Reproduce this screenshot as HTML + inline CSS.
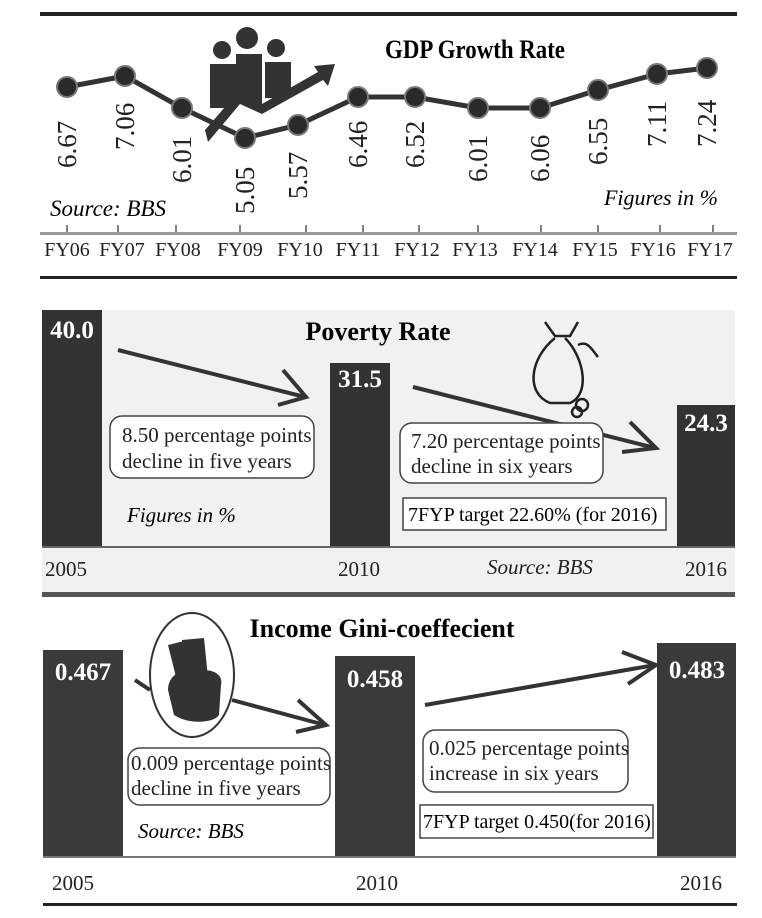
<!DOCTYPE html>
<html><head><meta charset="utf-8"><style>
html,body{margin:0;padding:0;background:#fff}
svg{display:block}
text{font-family:"Liberation Serif",serif}
</style></head><body>
<svg width="762" height="918" viewBox="0 0 762 918" xmlns="http://www.w3.org/2000/svg">
<!-- GDP panel -->
<rect x="40" y="12" width="697" height="4" fill="#222"/>
<text x="475" y="58" font-size="26" font-weight="bold" text-anchor="middle" transform="translate(475 0) scale(0.88 1) translate(-475 0)">GDP Growth Rate</text>
<g fill="#333">
<circle cx="222" cy="50" r="9"/><circle cx="247" cy="38" r="11"/><circle cx="276" cy="48" r="9"/>
<path d="M210 64 h26 v44 h-26z"/><path d="M236 54 h26 v50 h-26z"/><path d="M265 62 h26 v36 h-26z"/>
<path d="M205 130 L238 92 L262 104 L318 72 L314 66 L335 64 L328 86 L323 80 L262 114 L240 104 L208 142z"/>
</g>
<polyline fill="none" stroke="#333" stroke-width="5" points="67,87 125,76 182,108 245,138 298,125 358,97 415,97 478,108 540,108 598,90 657,74 707,68"/>
<g fill="#2a2a2a" stroke="#777" stroke-width="2">
<circle cx="67" cy="87" r="10"/><circle cx="125" cy="76" r="10"/><circle cx="182" cy="108" r="10"/><circle cx="245" cy="138" r="10"/><circle cx="298" cy="125" r="10"/><circle cx="358" cy="97" r="10"/><circle cx="415" cy="97" r="10"/><circle cx="478" cy="108" r="10"/><circle cx="540" cy="108" r="10"/><circle cx="598" cy="90" r="10"/><circle cx="657" cy="74" r="10"/><circle cx="707" cy="68" r="10"/>
</g>
<g font-size="27" fill="#222">
<text transform="translate(76 168) rotate(-90)">6.67</text>
<text transform="translate(134 150) rotate(-90)">7.06</text>
<text transform="translate(191 183) rotate(-90)">6.01</text>
<text transform="translate(254 214) rotate(-90)">5.05</text>
<text transform="translate(307 199) rotate(-90)">5.57</text>
<text transform="translate(367 168) rotate(-90)">6.46</text>
<text transform="translate(424 168) rotate(-90)">6.52</text>
<text transform="translate(487 182) rotate(-90)">6.01</text>
<text transform="translate(549 182) rotate(-90)">6.06</text>
<text transform="translate(607 165) rotate(-90)">6.55</text>
<text transform="translate(666 147) rotate(-90)">7.11</text>
<text transform="translate(716 147) rotate(-90)">7.24</text>
</g>
<text x="50" y="216" font-size="23" font-style="italic">Source: BBS</text>
<text x="718" y="205" font-size="22" font-style="italic" text-anchor="end">Figures in %</text>
<rect x="40" y="232" width="697" height="3" fill="#999"/>
<g stroke="#555" stroke-width="1.5">
<line x1="67" y1="225" x2="67" y2="232"/><line x1="118" y1="225" x2="118" y2="232"/><line x1="176" y1="225" x2="176" y2="232"/><line x1="240" y1="225" x2="240" y2="232"/><line x1="306" y1="225" x2="306" y2="232"/><line x1="363" y1="225" x2="363" y2="232"/><line x1="419" y1="225" x2="419" y2="232"/><line x1="478" y1="225" x2="478" y2="232"/><line x1="541" y1="225" x2="541" y2="232"/><line x1="598" y1="225" x2="598" y2="232"/><line x1="660" y1="225" x2="660" y2="232"/><line x1="713" y1="225" x2="713" y2="232"/>
</g>
<g font-size="20" text-anchor="middle" fill="#222">
<text x="67" y="256">FY06</text><text x="122" y="256">FY07</text><text x="178" y="256">FY08</text><text x="240" y="256">FY09</text><text x="300" y="256">FY10</text><text x="358" y="256">FY11</text><text x="417" y="256">FY12</text><text x="475" y="256">FY13</text><text x="535" y="256">FY14</text><text x="595" y="256">FY15</text><text x="653" y="256">FY16</text><text x="710" y="256">FY17</text>
</g>
<rect x="40" y="276" width="697" height="3" fill="#222"/>

<!-- Poverty panel -->
<rect x="42" y="310" width="693" height="283" fill="#f1f1f1"/>
<rect x="42" y="310" width="60" height="237" fill="#333"/>
<rect x="330" y="363" width="60" height="184" fill="#333"/>
<rect x="677" y="405" width="58" height="142" fill="#333"/>
<rect x="42" y="546" width="693" height="2" fill="#666"/>
<rect x="42" y="592" width="693" height="5" fill="#555"/>
<g font-size="25" font-weight="bold" fill="#fff" text-anchor="middle">
<text x="72" y="338">40.0</text><text x="360" y="387">31.5</text><text x="706" y="431">24.3</text>
</g>
<text x="378" y="340" font-size="26" font-weight="bold" text-anchor="middle">Poverty Rate</text>
<g fill="none" stroke="#222" stroke-width="2.5">
<path d="M545 322 l10 14 h15 l8 -14 M555 338 c-25 20 -30 55 -5 65 h20 c20 -8 15 -45 -5 -65"/>
<path d="M578 345 c10 -5 14 5 20 12"/>
<circle cx="582" cy="405" r="6"/><circle cx="577" cy="412" r="5"/>
</g>
<g stroke="#333" stroke-width="4" fill="none">
<line x1="118" y1="350" x2="305" y2="397"/><path d="M283 370 L306 397 L278 405"/>
<line x1="413" y1="387" x2="655" y2="448"/><path d="M630 422 L656 448 L622 452"/>
</g>
<rect x="110" y="416" width="204" height="62" rx="12" fill="#fff" stroke="#444" stroke-width="1.5"/>
<rect x="400" y="423" width="203" height="60" rx="12" fill="#fff" stroke="#444" stroke-width="1.5"/>
<g font-size="21" fill="#222">
<text x="122" y="442">8.50 percentage points</text><text x="122" y="468">decline in five years</text>
<text x="411" y="448">7.20 percentage points</text><text x="411" y="473">decline in six years</text>
</g>
<text x="127" y="522" font-size="21" font-style="italic">Figures in %</text>
<rect x="403" y="498" width="263" height="32" fill="#fff" stroke="#444" stroke-width="1.5"/>
<text x="408" y="521" font-size="20">7FYP target 22.60% (for 2016)</text>
<g font-size="21" fill="#222">
<text x="45" y="576">2005</text><text x="338" y="576">2010</text><text x="685" y="576">2016</text>
<text x="487" y="574" font-style="italic">Source: BBS</text>
</g>

<!-- Gini panel -->
<rect x="43" y="650" width="80" height="208" fill="#3a3a3a"/>
<rect x="335" y="656" width="80" height="202" fill="#3a3a3a"/>
<rect x="657" y="643" width="79" height="215" fill="#3a3a3a"/>
<rect x="43" y="856" width="693" height="2" fill="#777"/>
<g font-size="25" font-weight="bold" fill="#fff" text-anchor="middle">
<text x="83" y="680">0.467</text><text x="375" y="687">0.458</text><text x="697" y="678">0.483</text>
</g>
<text x="382" y="637" font-size="26" font-weight="bold" text-anchor="middle">Income Gini-coeffecient</text>
<ellipse cx="192" cy="675" rx="42" ry="62" fill="#fff" stroke="#333" stroke-width="2"/>
<g fill="#333">
<path d="M168 645 l20 -5 l10 40 l-20 5z"/><path d="M182 640 l22 -2 l4 40 l-20 2z"/>
<path d="M168 690 c0 -15 15 -25 35 -20 c15 0 20 8 18 15 l-2 30 c-5 8 -30 10 -45 0z"/>
</g>
<g stroke="#333" stroke-width="4" fill="none">
<line x1="135" y1="680" x2="150" y2="690"/>
<line x1="232" y1="700" x2="325" y2="725"/><path d="M298 700 L326 725 L296 732"/>
<line x1="425" y1="705" x2="655" y2="665"/><path d="M622 652 L656 665 L628 684"/>
</g>
<rect x="128" y="748" width="202" height="57" rx="12" fill="#fff" stroke="#444" stroke-width="1.5"/>
<rect x="423" y="730" width="205" height="62" rx="12" fill="#fff" stroke="#444" stroke-width="1.5"/>
<g font-size="21" fill="#222">
<text x="131" y="770">0.009 percentage points</text><text x="131" y="795">decline in five years</text>
<text x="429" y="755">0.025 percentage points</text><text x="429" y="780">increase in six years</text>
</g>
<text x="138" y="838" font-size="21" font-style="italic">Source: BBS</text>
<rect x="420" y="805" width="233" height="33" fill="#fff" stroke="#444" stroke-width="1.5"/>
<text x="423" y="828" font-size="20">7FYP target 0.450(for 2016)</text>
<g font-size="21" fill="#222">
<text x="52" y="890">2005</text><text x="356" y="890">2010</text><text x="680" y="890">2016</text>
</g>
<rect x="43" y="903" width="694" height="3" fill="#222"/>
</svg>
</body></html>
